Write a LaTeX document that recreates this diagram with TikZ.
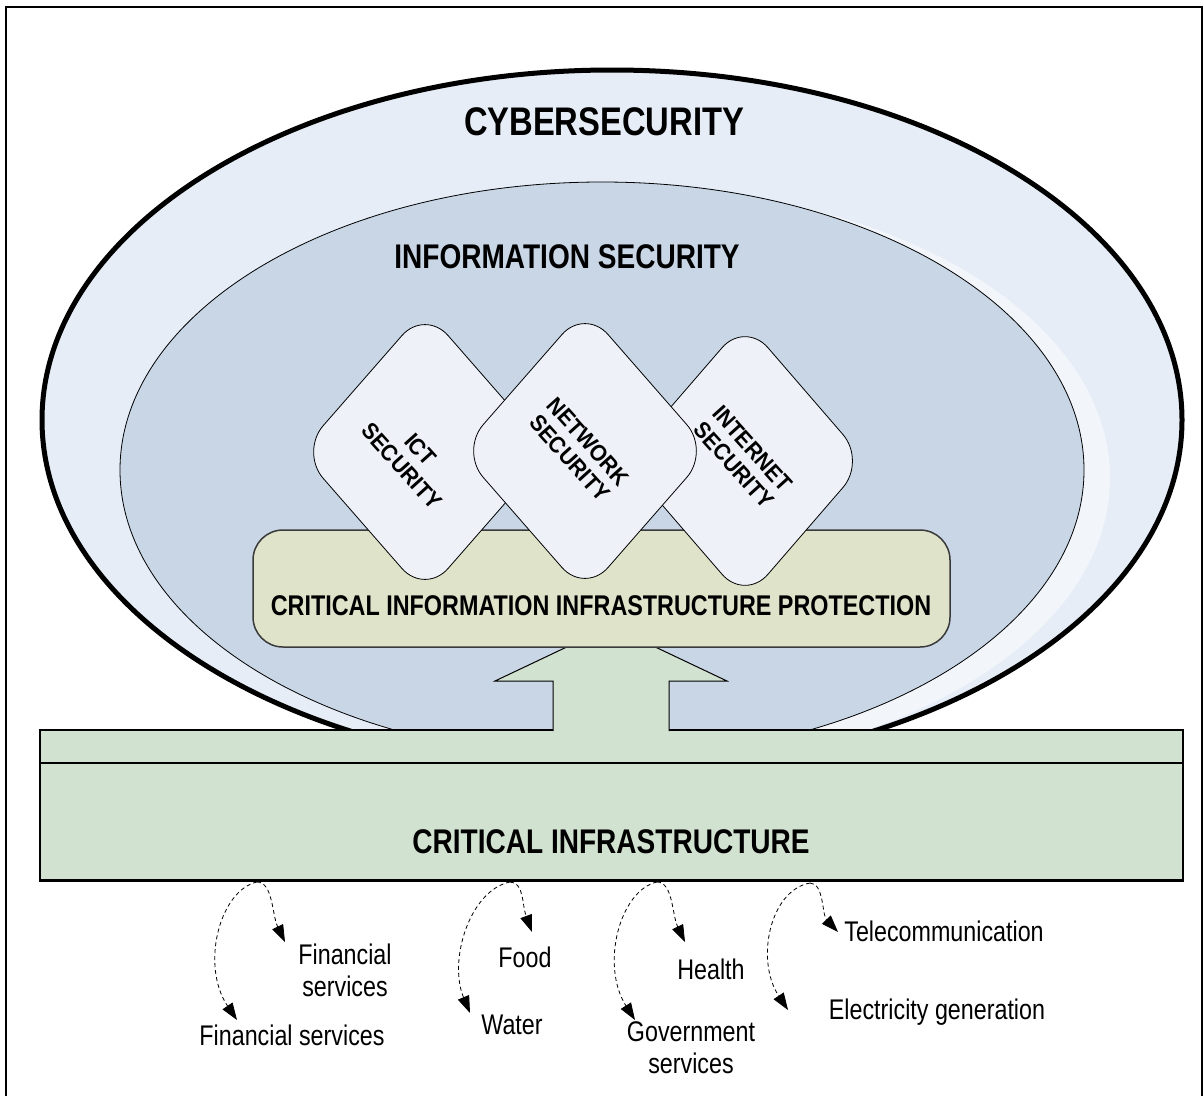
\documentclass[tikz,border=0pt]{standalone}
\usepackage{fontspec}
\setmainfont{Liberation Sans}[FakeStretch=0.82]
\newfontfamily\diamfont{Liberation Sans}[FakeStretch=0.92]
\usetikzlibrary{shapes.geometric,arrows.meta}

\definecolor{outerfill}{HTML}{E6EDF7}
\definecolor{glossfill}{HTML}{F2F6FB}
\definecolor{innerfill}{HTML}{C8D6E6}
\definecolor{diamfill}{HTML}{EEF2F8}
\definecolor{ciipfill}{HTML}{DEE3CA}
\definecolor{barfill}{HTML}{D2E2D0}
\definecolor{ciipline}{HTML}{3A3A3A}

\begin{document}
\begin{tikzpicture}[x=1pt,y=-1pt,
  frameline/.style={draw=black,line width=1.6pt},
  rdiam/.style={diamond,draw=black,line width=0.8pt,fill=diamfill,inner sep=0pt,
    rounded corners=35pt},
  diamlabel/.style={font=\diamfont\bfseries\fontsize{23}{25}\selectfont,
    align=center,inner sep=0pt,rotate=-48},
  title/.style={font=\bfseries\fontsize{#1}{#1}\selectfont,anchor=base,inner sep=0pt},
  item/.style={font=\fontsize{28.4}{32}\selectfont,anchor=base,inner sep=0pt,align=center},
  dasharrow/.style={draw=black,line width=0.8pt,dash pattern=on 4pt off 3pt,
    -{Triangle[length=17pt,width=12pt]}},
  ]
\useasboundingbox (0,0) rectangle (1204,1095);

% page frame (open at the bottom)
\draw[frameline] (6,1100) -- (6,7) -- (1202,7) -- (1202,1100);

% cybersecurity ellipse with its glossy inner band
\draw[fill=outerfill,draw=black,line width=5pt] (612,420) ellipse [x radius=570, y radius=350];
\fill[glossfill] (628,478) ellipse [x radius=482, y radius=290];
% information security ellipse
\draw[fill=innerfill,draw=black,line width=0.8pt] (602,470) ellipse [x radius=482, y radius=288];

% critical infrastructure base
\node[draw=black,line width=1.5pt,fill=barfill,minimum width=1143pt,minimum height=33pt,
  inner sep=0pt] (capbar) at (611.5,746.5) {};
\node[draw=black,line width=1.6pt,fill=barfill,minimum width=1143pt,minimum height=117pt,
  inner sep=0pt] (cibox) at (611.5,821.5) {};
\draw[black,line width=2.4pt] (cibox.south west) -- (cibox.south east);

% upward arrow from the base to the protection layer
\fill[barfill] (553,732) -- (553,681) -- (495,681) -- (611,626) -- (727,681) -- (669,681) -- (669,732) -- cycle;
\draw[black,line width=1pt,line join=miter] (553,731) -- (553,681) -- (495,681) -- (611,626)
  -- (727,681) -- (669,681) -- (669,731);

% critical information infrastructure protection
\node[draw=ciipline,line width=1.5pt,fill=ciipfill,rounded corners=30pt,
  minimum width=697pt,minimum height=117pt,inner sep=0pt] (ciip) at (601.5,588.5) {};

% security diamonds
\node[rdiam,minimum width=250pt,minimum height=286pt] (ict) at (425,452) {};
\node[rdiam,minimum width=242pt,minimum height=280pt] (inet) at (745,461) {};
\node[rdiam,minimum width=250pt,minimum height=286pt] (net) at (585,451) {};

\node[diamlabel] (ictlabel) at (411,458) {ICT\\SECURITY};
\node[diamlabel] (netlabel) at (579,450) {NETWORK\\SECURITY};
\node[diamlabel] (inetlabel) at (743,457) {INTERNET\\SECURITY};

% titles
\node[title=39.9] (cybertitle) at (604,135) {CYBERSECURITY};
\node[title=34.2] (infotitle) at (567,268) {INFORMATION SECURITY};
\node[title=28.5] (ciiptitle) at (601,615) {CRITICAL INFORMATION INFRASTRUCTURE PROTECTION};
\node[title=34.2] (cititle) at (611,853) {CRITICAL INFRASTRUCTURE};

% sectors (two-line labels are placed by their last baseline)
\node[item] (fin2) at (345,996) {Financial\\services};
\node[item] (fin1) at (292,1045) {Financial services};
\node[item] (food) at (525,967) {Food};
\node[item] (water) at (512,1034) {Water};
\node[item] (health) at (711,979) {Health};
\node[item] (gov) at (691,1073) {Government\\services};
\node[item] (tele) at (944,941) {Telecommunication};
\node[item] (elec) at (937,1019) {Electricity generation};

% dashed links from the base to the sectors
\coordinate (s1) at (257,882);
\coordinate (s2) at (510,882);
\coordinate (s3) at (657,882);
\coordinate (s4) at (810,883);
\coordinate (t1a) at (285,942);
\coordinate (t1b) at (237,1020);
\coordinate (t2a) at (532,932);
\coordinate (t2b) at (470,1013);
\coordinate (t3a) at (685,942);
\coordinate (t3b) at (635,1020);
\coordinate (t4a) at (838,932);
\coordinate (t4b) at (788,1010);

\draw[dasharrow] (s1) .. controls (273,882) and (272,915) .. (t1a);
\draw[dasharrow] (s1) .. controls (220,890) and (200,965) .. (t1b);
\draw[dasharrow] (s2) .. controls (524,882) and (522,905) .. (t2a);
\draw[dasharrow] (s2) .. controls (470,890) and (448,960) .. (t2b);
\draw[dasharrow] (s3) .. controls (673,882) and (672,915) .. (t3a);
\draw[dasharrow] (s3) .. controls (620,890) and (600,965) .. (t3b);
\draw[dasharrow] (s4) .. controls (824,883) and (822,915) .. (t4a);
\draw[dasharrow] (s4) .. controls (770,890) and (755,960) .. (t4b);
\end{tikzpicture}
\end{document}
